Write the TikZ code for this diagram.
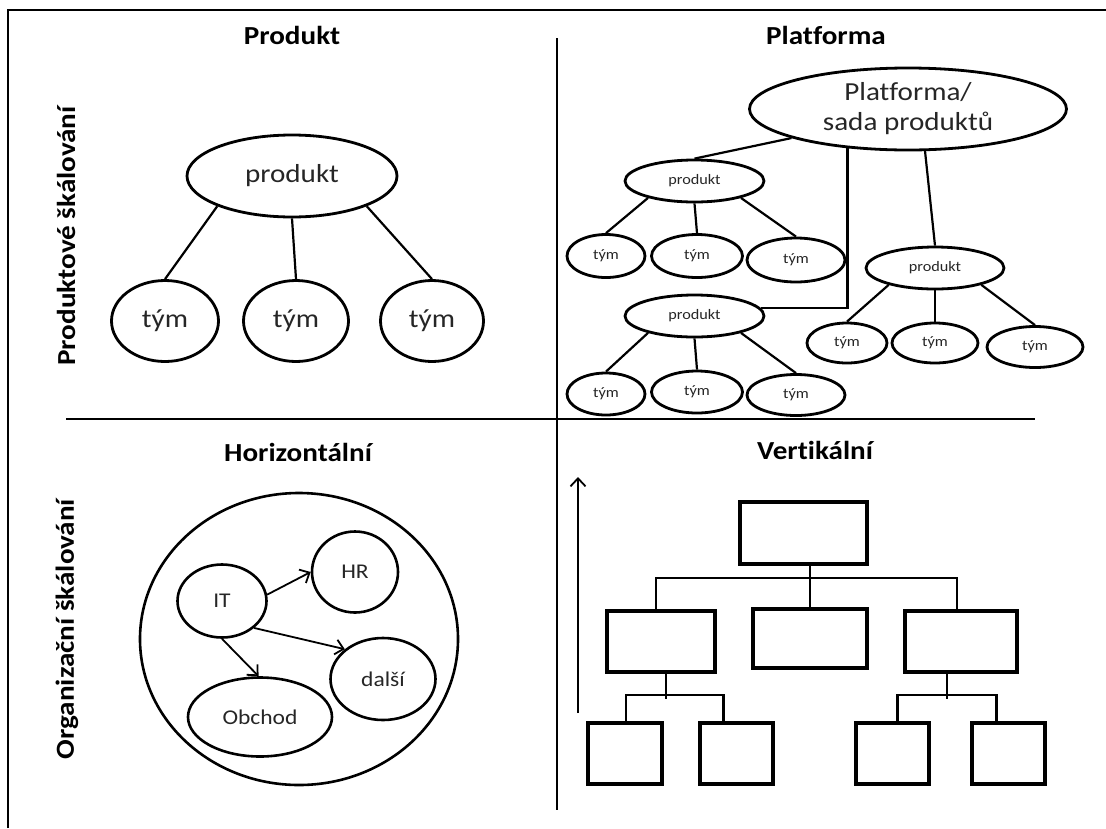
\documentclass[tikz,border=0pt]{standalone}
\usepackage{fontspec}
\setmainfont{Carlito}[FakeStretch=1.12, Ligatures=NoCommon]
\usetikzlibrary{shapes.geometric,arrows.meta,calc}
\begin{document}
\begin{tikzpicture}[x=1pt,y=-1pt,
  ell/.style={ellipse, draw, line width=2.8pt, inner sep=0pt, text=black!85},
  bigt/.style={ell, font=\fontsize{26}{32}\selectfont},
  smallt/.style={ell, font=\fontsize{14.5}{17}\selectfont},
  orgt/.style={ell, line width=2.6pt, font=\fontsize{21}{25}\selectfont},
  title/.style={font=\fontsize{26}{30}\selectfont\bfseries},
  side/.style={font=\fontsize{26}{30}\selectfont\bfseries, rotate=90},
  tbox/.style={rectangle, draw, line width=4pt, inner sep=0pt},
  conn/.style={line width=2.2pt},
  bus/.style={line width=2.6pt},
  arr/.style={line width=1.8pt, -{Straight Barb[length=8pt,width=15pt,line width=1.8pt]}},
  frame/.style={line width=2.4pt}
]
\useasboundingbox (0,0) rectangle (1106,828);

% frame and dividers
\draw[frame] (8,828) -- (8,10) -- (1106,10);
\coordinate (vd1) at (557,38);
\coordinate (vd2) at (557,810);
\coordinate (hd1) at (66,419);
\coordinate (hd2) at (1035,419);
\draw[frame] (vd1) -- (vd2);
\draw[frame] (hd1) -- (hd2);

% titles
\node[title] (t1) at (292,35) {Produkt};
\node[title] (t2) at (826,35) {Platforma};
\node[title] (t3) at (298,452) {Horizontální};
\node[title] (t4) at (815,450) {Vertikální};
\node[side] (s1) at (66,236) {Produktové škálování};
\node[side] (s2) at (67,629) {Organizační škálování};

% ---- top left: Produkt
\node[bigt, minimum width=210pt, minimum height=82pt] (pL) at (292,176) {produkt};
\node[bigt, minimum width=107pt, minimum height=81pt] (tL1) at (165,321) {tým};
\node[bigt, minimum width=105pt, minimum height=81pt] (tL2) at (296,321) {tým};
\node[bigt, minimum width=103pt, minimum height=81pt] (tL3) at (432,321) {tým};
\draw[conn] (pL.202) -- (tL1.north);
\draw[conn] (pL.south) -- (tL2.north);
\draw[conn] (pL.338) -- (tL3.north);

% ---- top right: Platforma
\node[bigt, minimum width=317pt, minimum height=82pt, align=center] (plat) at (908,109)
  {Platforma/\\[-2pt]sada produktů};
\node[smallt, minimum width=139pt, minimum height=42pt] (pP1) at (694.5,181) {produkt};
\node[smallt, minimum width=139pt, minimum height=42pt] (pP2) at (694.5,316) {produkt};
\node[smallt, minimum width=138pt, minimum height=42pt] (pP3) at (935,268) {produkt};

\node[smallt, minimum width=78pt, minimum height=43pt] (tA1) at (606,256) {tým};
\node[smallt, minimum width=91pt, minimum height=43pt] (tA2) at (697,256) {tým};
\node[smallt, minimum width=98pt, minimum height=44pt] (tA3) at (796,260) {tým};

\node[smallt, minimum width=78pt, minimum height=42pt] (tB1) at (606,394) {tým};
\node[smallt, minimum width=91pt, minimum height=42pt] (tB2) at (697,392) {tým};
\node[smallt, minimum width=98pt, minimum height=41pt] (tB3) at (796,395) {tým};

\node[smallt, minimum width=80pt, minimum height=40pt] (tC1) at (847,343) {tým};
\node[smallt, minimum width=86pt, minimum height=40pt] (tC2) at (935,343) {tým};
\node[smallt, minimum width=96pt, minimum height=41pt] (tC3) at (1035,347) {tým};

\draw[conn] (plat.194) -- (pP1.north);
\draw[conn] (plat.213) |- (pP2.7.5);
\draw[conn] (plat.292.6) -- (pP3.north);

\draw[conn] (pP1.200) -- (tA1.north);
\draw[conn] (pP1.south) -- (tA2.north);
\draw[conn] (pP1.340) -- (tA3.north);
\draw[conn] (pP2.200) -- (tB1.north);
\draw[conn] (pP2.south) -- (tB2.north);
\draw[conn] (pP2.340) -- (tB3.north);
\draw[conn] (pP3.200) -- (tC1.north);
\draw[conn] (pP3.south) -- (tC2.north);
\draw[conn] (pP3.340) -- (tC3.north);

% ---- bottom left: Horizontalni
\node[orgt, minimum width=318pt, minimum height=292pt] (org) at (299,639) {};
\node[orgt, minimum width=89pt, minimum height=73pt] (IT) at (222,601) {IT};
\node[orgt, minimum width=86pt, minimum height=81pt] (HR) at (355,572) {HR};
\node[orgt, minimum width=105pt, minimum height=82pt] (dalsi) at (383,679) {další};
\node[orgt, minimum width=144pt, minimum height=79pt] (obchod) at (260,717) {Obchod};
\draw[arr] (IT.8) -- (HR.west);
\draw[arr] (IT.320) -- (dalsi.142);
\draw[arr] (IT.south) -- (obchod.92);

% ---- bottom right: Vertikalni
\coordinate (va0) at (578,713);
\coordinate (va1) at (578,477);
\draw[arr, line width=2.2pt] (va0) -- (va1);

\node[tbox, minimum width=127pt, minimum height=62pt] (top) at (803.5,533) {};
\node[tbox, minimum width=108pt, minimum height=61pt] (ml) at (661,641.5) {};
\node[tbox, minimum width=114pt, minimum height=59pt] (mc) at (810,638.5) {};
\node[tbox, minimum width=112pt, minimum height=61pt] (mr) at (961,641.5) {};
\node[tbox, minimum width=74pt, minimum height=61pt] (b1) at (625,753.5) {};
\node[tbox, minimum width=73pt, minimum height=61pt] (b2) at (736.5,753.5) {};
\node[tbox, minimum width=73pt, minimum height=61pt] (b3) at (892.5,753.5) {};
\node[tbox, minimum width=73pt, minimum height=61pt] (b4) at (1008.5,753.5) {};

\draw[bus] (top.south -| mc.north) -- (mc.north);
\draw[bus] ($(ml.north)+(-5,0)$) -- ++(0,-31) -| ($(mr.north)+(-4,0)$);
\draw[bus] ($(ml.south)+(5,0)$) -- ++(0,25);
\draw[bus] ($(b1.north)+(1,0)$) -- ++(0,-26) -| ($(b2.north)+(-13,0)$);
\draw[bus] ($(mr.south)+(-14,0)$) -- ++(0,25);
\draw[bus] ($(b3.north)+(5,0)$) -- ++(0,-26) -| ($(b4.north)+(-12,0)$);
\end{tikzpicture}
\end{document}
